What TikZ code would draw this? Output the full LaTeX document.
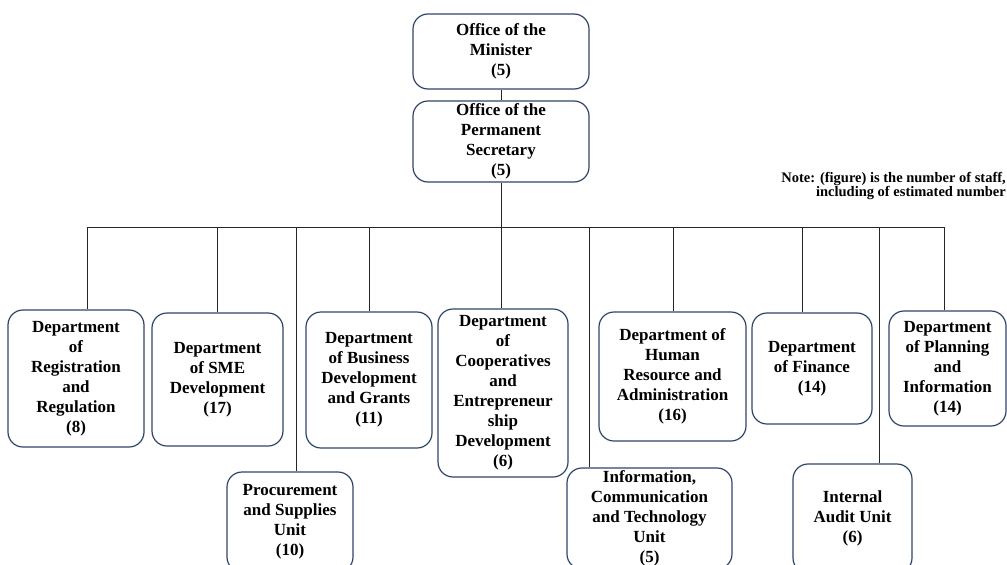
\documentclass[tikz,border=0pt]{standalone}
\usepackage{fontspec}
\setmainfont{Liberation Serif}
\definecolor{boxblue}{HTML}{2F4468}

\begin{document}
\begin{tikzpicture}[x=1pt,y=-1pt,
        unit/.style={draw=boxblue,line width=1.2pt,rounded corners=15pt,align=center,
            inner sep=0pt,font=\fontsize{17}{20}\selectfont\bfseries},
        conn/.style={draw=black!85,line width=1pt}]
        \useasboundingbox (0,0) rectangle (1007,565);
        \clip (0,0) rectangle (1007,565);
        \node[unit,minimum width=176pt,minimum height=75pt] (min) at (501,51.5) {Office of the\\Minister\\(5)};
        \node[unit,minimum width=176pt,minimum height=81pt] (ps) at (501,141.5) {Office of the\\Permanent\\Secretary\\(5)};
        \node[unit,minimum width=136pt,minimum height=137pt] (reg) at (76,378.5) {Department\\of\\Registration\\and\\Regulation\\(8)};
        \node[unit,minimum width=131pt,minimum height=133pt] (sme) at (217.5,379.5) {Department\\of SME\\Development\\(17)};
        \node[unit,minimum width=126pt,minimum height=136pt] (bus) at (369,380) {Department\\of Business\\Development\\and Grants\\(11)};
        \node[unit,minimum width=130pt,minimum height=168pt] (coop) at (503,393) {Department\\of\\Cooperatives\\and\\Entrepreneur\\ship\\Development\\(6)};
        \node[unit,minimum width=147pt,minimum height=129pt] (hr) at (672.5,376.5) {Department of\\Human\\Resource and\\Administration\\(16)};
        \node[unit,minimum width=120pt,minimum height=111pt] (fin) at (812,368.5) {Department\\of Finance\\(14)};
        \node[unit,minimum width=117pt,minimum height=115pt] (plan) at (947.5,368.5) {Department\\of Planning\\and\\Information\\(14)};
        \node[unit,minimum width=126pt,minimum height=100pt] (proc) at (290,522) {Procurement\\and Supplies\\Unit\\(10)};
        \node[unit,minimum width=165pt,minimum height=101pt] (ict) at (649.5,518.5) {Information,\\Communication\\and Technology\\Unit\\(5)};
        \node[unit,minimum width=119pt,minimum height=109pt] (aud) at (852.5,518.5) {Internal\\Audit Unit\\(6)};
        \node[anchor=east,align=right,inner sep=0pt,font=\fontsize{14.5}{14.5}\selectfont\bfseries] (note) at (1006,186)
            {Note: (figure) is the number of staff,\\including of estimated number};
        \coordinate (bar) at (0,227);
        \draw[conn] (min) -- (ps);
        \draw[conn] (ps.south) -- (ps.south |- coop.north);
        \draw[conn] (87,0 |- bar) -- (944,0 |- bar);
        \foreach \x/\n in {87/reg,217/sme,296/proc,369/bus,589/ict,673/hr,802/fin,879/aud,944/plan}
            \draw[conn] (\x,0 |- bar) -- (\x,0 |- \n.north);
    \end{tikzpicture}
\end{document}
